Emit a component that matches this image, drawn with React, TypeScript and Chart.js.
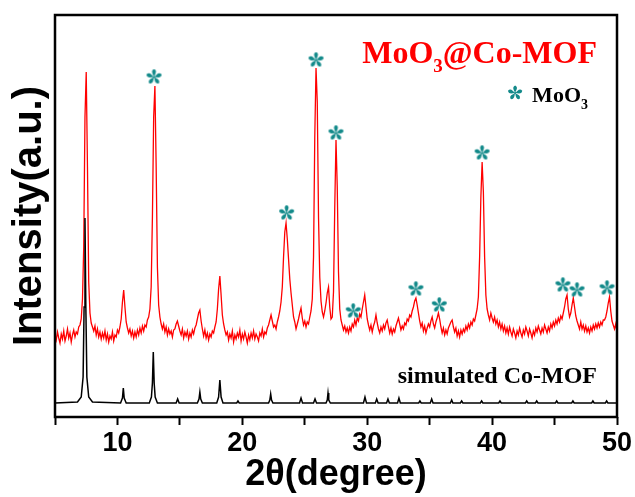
import React, { useEffect, useRef } from "react";
import { Chart, registerables } from "chart.js";
Chart.register(...registerables);

// ---- data ----
const X_MIN = 5;
const X_MAX = 50;
const xTickStep = 5;
const xLabels = [10, 20, 30, 40, 50];

// MoO3@Co-MOF measured pattern, equally spaced 2θ from 5.0 to 50.0 (step 0.1)
const redStart = 5.0;
const redStep = 0.1;
const redIntensity = [
  82, 77, 85, 79, 74, 83, 78, 86, 76, 81,
  88, 79, 84, 75, 82, 87, 80, 85, 83, 90,
  92, 98, 118, 170, 300, 345, 250, 135, 104, 94,
  90, 86, 91, 82, 88, 80, 85, 78, 84, 79,
  86, 77, 83, 75, 81, 78, 85, 76, 82, 80,
  87, 84, 90, 98, 115, 127, 110, 95, 89, 84,
  88, 81, 86, 79, 85, 80, 87, 82, 89, 84,
  91, 86, 92, 90, 97, 100, 108, 130, 200, 300,
  331, 250, 150, 112, 100, 93, 88, 93, 85, 90,
  82, 88, 83, 86, 80, 87, 88, 93, 96, 91,
  86, 82, 88, 79, 85, 81, 86, 78, 84, 80,
  87, 83, 89, 92, 98, 104, 107, 96, 88, 81,
  87, 79, 84, 77, 83, 80, 86, 84, 90, 95,
  108, 128, 141, 122, 102, 93, 87, 82, 85, 77,
  83, 79, 86, 75, 82, 78, 84, 80, 87, 76,
  83, 78, 85, 80, 74, 82, 77, 84, 79, 86,
  78, 83, 80, 76, 84, 81, 88, 80, 85, 83,
  89, 92, 97, 102, 96, 90, 92, 88, 95, 100,
  106, 115, 130, 160, 185, 194, 178, 158, 138, 124,
  112, 100, 95, 88, 93, 98, 104, 109, 99, 92,
  96, 90, 95, 93, 100, 106, 118, 160, 280, 349,
  315, 200, 140, 116, 105, 100, 106, 114, 124, 130,
  110, 98, 100, 125, 210, 277, 230, 145, 108, 97,
  92, 87, 91, 85, 89, 84, 90, 86, 93, 90,
  97, 92, 99, 96, 103, 100, 108, 115, 122, 110,
  98, 92, 87, 92, 85, 91, 95, 102, 94, 88,
  84, 90, 86, 92, 88, 94, 97, 90, 84, 89,
  83, 88, 85, 91, 95, 99, 93, 87, 91, 88,
  94, 92, 98, 96, 102, 100, 106, 110, 116, 119,
  112, 104, 96, 90, 94, 86, 91, 84, 89, 93,
  90, 96, 100, 93, 89, 95, 99, 104, 98, 90,
  84, 89, 82, 87, 83, 89, 92, 95, 97, 90,
  85, 89, 81, 86, 80, 87, 83, 88, 85, 91,
  87, 93, 89, 95, 92, 98, 96, 102, 108, 120,
  160, 220, 255, 225, 160, 122, 108, 102, 97, 104,
  99, 95, 100, 93, 97, 90, 95, 88, 93, 86,
  91, 84, 89, 83, 90, 85, 81, 88, 84, 79,
  86, 82, 89, 84, 80, 87, 83, 90, 86, 81,
  88, 84, 79, 86, 82, 89, 85, 91, 87, 83,
  89, 85, 92, 88, 84, 90, 86, 93, 89, 95,
  91, 97, 93, 99, 95, 101, 98, 104, 110, 118,
  122, 108, 100, 104, 112, 119, 110, 101, 96, 92,
  88, 95, 88, 92, 86, 91, 85, 89, 84, 90,
  86, 92, 88, 93, 89, 94, 90, 95, 92, 97,
  97, 100, 106, 114, 120, 106, 96, 92, 88, 93,
  85,
];

// simulated Co-MOF pattern (2θ, intensity)
const simulatedPoints: [number, number][] = [
  [5, 14], [6.8, 15], [7.1, 20], [7.25, 40], [7.33, 110], [7.4, 199], [7.47, 110], [7.55, 40], [7.7, 20], [8.0, 15],
  [10.25, 14], [10.4, 19], [10.47, 29], [10.54, 19], [10.7, 14],
  [12.55, 14], [12.72, 20], [12.8, 34], [12.87, 65], [12.94, 34], [13.02, 20], [13.2, 14],
  [14.7, 14], [14.82, 18], [14.94, 14],
  [16.4, 14], [16.53, 18], [16.6, 25], [16.67, 18], [16.8, 14],
  [17.95, 14], [18.1, 20], [18.2, 37], [18.3, 20], [18.45, 14],
  [19.55, 14], [19.65, 16], [19.75, 14],
  [22.1, 14], [22.2, 17], [22.27, 23], [22.34, 17], [22.45, 14],
  [24.58, 14], [24.7, 19], [24.82, 14],
  [25.7, 14], [25.82, 18], [25.94, 14],
  [26.7, 14], [26.8, 17], [26.86, 24], [26.92, 17], [27.05, 14],
  [29.7, 14], [29.82, 20], [29.94, 14],
  [30.65, 14], [30.76, 18], [30.87, 14],
  [31.55, 14], [31.66, 18], [31.77, 14],
  [32.43, 14], [32.54, 19], [32.65, 14],
  [34.12, 14], [34.22, 16], [34.32, 14],
  [35.05, 14], [35.16, 18], [35.27, 14],
  [36.66, 14], [36.76, 17], [36.86, 14],
  [37.46, 14], [37.56, 16], [37.66, 14],
  [39.06, 14], [39.16, 16], [39.26, 14],
  [40.53, 14], [40.63, 16], [40.73, 14],
  [42.67, 14], [42.77, 16], [42.87, 14],
  [43.47, 14], [43.57, 16], [43.67, 14],
  [45.07, 14], [45.17, 16], [45.27, 14],
  [46.37, 14], [46.47, 16], [46.57, 14],
  [47.97, 14], [48.07, 16], [48.17, 14],
  [49.07, 14], [49.17, 16], [49.27, 14],
  [50, 14],
];

// MoO3 reflection markers (asterisks)
const markerX = [12.93, 23.55, 25.9, 27.5, 28.88, 33.9, 35.77, 39.2, 45.67, 46.8, 49.2];
const markerY = [340, 204, 357, 284, 106, 128, 112, 264, 132, 127, 129];

const Y_MIN = 0;
const Y_MAX = 402;

const RED = "#ff0000";
const TEAL = "#138a8a";

function drawAsterisk(g: CanvasRenderingContext2D, cx: number, cy: number, r: number, color: string) {
  g.save();
  g.fillStyle = color;
  g.translate(cx, cy);
  for (let k = 0; k < 5; k++) {
    g.save();
    g.rotate((k * 2 * Math.PI) / 5);
    g.beginPath();
    g.moveTo(0, -0.05 * r);
    g.bezierCurveTo(-0.16 * r, -0.35 * r, -0.46 * r, -0.78 * r, 0, -r);
    g.bezierCurveTo(0.46 * r, -0.78 * r, 0.16 * r, -0.35 * r, 0, -0.05 * r);
    g.fill();
    g.restore();
  }
  g.beginPath();
  g.arc(0, 0, r * 0.14, 0, Math.PI * 2);
  g.fill();
  g.restore();
}

function makeAsteriskCanvas(size: number, color: string) {
  const c = document.createElement("canvas");
  c.width = size;
  c.height = size;
  const g = c.getContext("2d")!;
  drawAsterisk(g, size / 2, size / 2, size / 2 - 0.5, color);
  return c;
}

const annotations = {
  id: "annotations",
  afterDraw(chart: any) {
    const { ctx, chartArea: a } = chart;
    ctx.save();
    // frame
    ctx.lineWidth = 2.5;
    ctx.strokeStyle = "#000";
    ctx.strokeRect(a.left, a.top, a.right - a.left, a.bottom - a.top);

    const serif = '"Liberation Serif", "Times New Roman", serif';
    // sample title
    ctx.fillStyle = RED;
    ctx.textBaseline = "alphabetic";
    ctx.textAlign = "left";
    const bigF = `bold 32px ${serif}`;
    const subF = `bold 19px ${serif}`;
    ctx.font = bigF;
    const w1 = ctx.measureText("MoO").width;
    const w3 = ctx.measureText("@Co-MOF").width;
    ctx.font = subF;
    const w2 = ctx.measureText("3").width;
    const tRight = a.right - 20;
    const tBase = a.top + 48;
    let x = tRight - (w1 + w2 + w3);
    ctx.font = bigF;
    ctx.fillText("MoO", x, tBase);
    x += w1;
    ctx.font = subF;
    ctx.fillText("3", x, tBase + 9);
    x += w2;
    ctx.font = bigF;
    ctx.fillText("@Co-MOF", x, tBase);

    // legend
    ctx.fillStyle = "#000";
    const lF = `bold 22px ${serif}`;
    const lsF = `bold 14px ${serif}`;
    ctx.font = lF;
    const l1 = ctx.measureText("MoO").width;
    ctx.font = lsF;
    const l2 = ctx.measureText("3").width;
    const lRight = a.right - 29;
    const lBase = a.top + 87;
    let lx = lRight - (l1 + l2);
    drawAsterisk(ctx, lx - 17, lBase - 9, 7.5, TEAL);
    ctx.fillStyle = "#000";
    ctx.font = lF;
    ctx.fillText("MoO", lx, lBase);
    ctx.font = lsF;
    ctx.fillText("3", lx + l1, lBase + 7);

    // simulated label
    ctx.font = `bold 24px ${serif}`;
    ctx.textAlign = "right";
    ctx.fillText("simulated Co-MOF", a.right - 20, a.bottom - 34);
    ctx.restore();
  },
};

export default function App() {
  const ref = useRef<HTMLCanvasElement | null>(null);
  useEffect(() => {
    if (!ref.current) return;
    const redData = redIntensity.map((v, i) => ({ x: +(redStart + i * redStep).toFixed(2), y: v }));
    const blackData = simulatedPoints.map(([x, y]) => ({ x, y }));
    const markerData = markerX.map((x, i) => ({ x, y: markerY[i] }));
    const star = makeAsteriskCanvas(17, TEAL);
    const sans = '"Liberation Sans", Arial, sans-serif';
    const chart = new Chart(ref.current, {
      type: "line",
      data: {
        datasets: [
          {
            label: "MoO3 markers",
            data: markerData,
            showLine: false,
            pointStyle: star as any,
            pointRadius: 8,
            order: 0,
          } as any,
          {
            label: "simulated Co-MOF",
            data: blackData,
            borderColor: "#000",
            borderWidth: 1.5,
            pointRadius: 0,
            tension: 0,
            order: 1,
          },
          {
            label: "MoO3@Co-MOF",
            data: redData,
            borderColor: RED,
            borderWidth: 1.3,
            pointRadius: 0,
            tension: 0,
            order: 2,
          },
        ],
      },
      options: {
        animation: false,
        responsive: false,
        layout: { padding: { top: 15, right: 18, left: 0, bottom: 0 } },
        plugins: { legend: { display: false }, tooltip: { enabled: false } },
        scales: {
          x: {
            type: "linear",
            min: X_MIN,
            max: X_MAX,
            afterBuildTicks: (s: any) => {
              const t = [];
              for (let v = X_MIN; v <= X_MAX; v += xTickStep) t.push({ value: v });
              s.ticks = t;
            },
            ticks: {
              autoSkip: false,
              maxRotation: 0,
              padding: 2,
              color: "#000",
              font: { family: sans, size: 27, weight: "bold" },
              callback: (v: any) => (xLabels.includes(Number(v)) ? String(v) : ""),
            },
            grid: { drawOnChartArea: false, drawTicks: true, tickLength: 8, tickColor: "#000", tickWidth: 2 },
            border: { display: false },
            title: {
              display: true,
              text: "2θ(degree)",
              color: "#000",
              font: { family: sans, size: 36, weight: "bold" },
              padding: { top: -4, bottom: 0 },
            },
            afterFit: (s: any) => {
              s.height = 80;
            },
          } as any,
          y: {
            min: Y_MIN,
            max: Y_MAX,
            ticks: { display: false },
            grid: { display: false, drawTicks: false },
            border: { display: false },
            title: {
              display: true,
              text: "Intensity(a.u.)",
              color: "#000",
              font: { family: sans, size: 40, weight: "bold" },
              padding: { top: 6, bottom: 0 },
            },
            afterFit: (s: any) => {
              s.width = 55;
            },
          } as any,
        },
      },
      plugins: [annotations],
    });
    return () => chart.destroy();
  }, []);
  return (
    <div style={{ position: "fixed", left: 0, top: 0, width: 635, height: 497, background: "#fff" }}>
      <canvas ref={ref} width={635} height={497} style={{ width: 635, height: 497 }} />
    </div>
  );
}
